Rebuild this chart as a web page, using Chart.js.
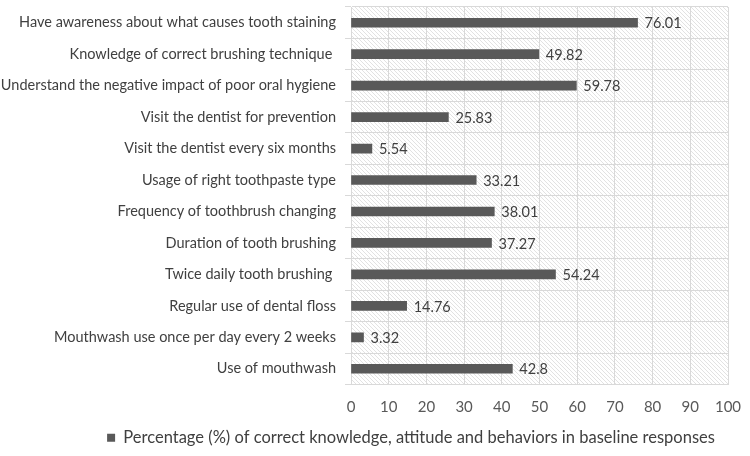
<!DOCTYPE html>
<html>
<head>
<meta charset="utf-8">
<script src="https://cdn.jsdelivr.net/npm/chart.js@4/dist/chart.umd.min.js"></script>
<style>
html,body{margin:0;padding:0;background:#fff;}
#wrap{width:750px;height:456px;}
</style>
</head>
<body>
<div id="wrap"><canvas id="c" width="750" height="456"></canvas></div>
<script>
const categories = [
  "Have awareness about what causes tooth staining",
  "Knowledge of correct brushing technique ",
  "Understand the negative impact of poor oral hygiene",
  "Visit the dentist for prevention",
  "Visit the dentist every six months",
  "Usage of right toothpaste type",
  "Frequency of toothbrush changing",
  "Duration of tooth brushing",
  "Twice daily tooth brushing ",
  "Regular use of dental floss",
  "Mouthwash use once per day every 2 weeks",
  "Use of mouthwash"
];
const percentages = [76.01, 49.82, 59.78, 25.83, 5.54, 33.21, 38.01, 37.27, 54.24, 14.76, 3.32, 42.8];
const seriesName = "Percentage (%) of correct knowledge, attitude and behaviors in baseline responses";
const xTicks = [0, 10, 20, 30, 40, 50, 60, 70, 80, 90, 100];

const FONT = "Lato, 'Open Sans', sans-serif";

function makePattern(ctx) {
  const p = document.createElement('canvas');
  p.width = 4; p.height = 4;
  const g = p.getContext('2d');
  g.fillStyle = '#ffffff';
  g.fillRect(0, 0, 4, 4);
  g.strokeStyle = '#e2e2e2';
  g.lineWidth = 1;
  g.beginPath();
  g.moveTo(0, 0); g.lineTo(4, 4);
  g.moveTo(-2, 2); g.lineTo(2, 6);
  g.moveTo(2, -2); g.lineTo(6, 2);
  g.stroke();
  return ctx.createPattern(p, 'repeat');
}

const bgPlugin = {
  id: 'bgPattern',
  beforeDraw(chart) {
    const {ctx, chartArea: a} = chart;
    ctx.save();
    ctx.fillStyle = makePattern(ctx);
    ctx.fillRect(a.left, a.top, a.right - a.left, a.bottom - a.top);
    ctx.restore();
  }
};

const legendShift = {
  id: 'legendShift',
  afterLayout(chart) {
    const lg = chart.legend;
    if (lg) { lg.left = 94; lg.width = lg.right - lg.left; }
  }
};

const labelPlugin = {
  id: 'valueLabels',
  afterDatasetsDraw(chart) {
    const {ctx} = chart;
    const meta = chart.getDatasetMeta(0);
    ctx.save();
    ctx.font = "14.5px " + FONT;
    ctx.fillStyle = '#404040';
    ctx.textAlign = 'left';
    ctx.textBaseline = 'middle';
    meta.data.forEach((bar, i) => {
      ctx.fillText(String(percentages[i]), bar.x + 7, bar.y + 1);
    });
    ctx.restore();
  }
};

new Chart(document.getElementById('c'), {
  type: 'bar',
  data: {
    labels: categories,
    datasets: [{
      label: seriesName,
      data: percentages,
      backgroundColor: '#595959',
      borderWidth: 0,
      barThickness: 9
    }]
  },
  options: {
    indexAxis: 'y',
    responsive: false,
    animation: false,
    layout: { padding: { top: 7, right: 22, left: 0, bottom: 0 } },
    plugins: {
      legend: {
        position: 'bottom',
        labels: {
          boxWidth: 8, boxHeight: 8, padding: 0,
          color: '#404040',
          font: { family: FONT, size: 16.5 }
        }
      },
      tooltip: { enabled: false }
    },
    scales: {
      x: {
        min: 0, max: 100,
        afterBuildTicks(scale) { scale.ticks = xTicks.map(v => ({value: v})); },
        afterFit(scale) { scale.paddingLeft = 0; scale.paddingRight = 0; },
        grid: { color: '#d9d9d9', drawTicks: false },
        border: { color: '#d9d9d9' },
        ticks: { color: '#595959', font: { family: FONT, size: 15, lineHeight: 1.0 }, padding: 15 }
      },
      y: {
        grid: { color: '#d9d9d9', offset: true, tickLength: 6 },
        border: { color: '#d9d9d9' },
        ticks: { color: '#404040', font: { family: FONT, size: 14.5 }, padding: 9, autoSkip: false },
        afterFit(scale) { scale.width = 351; scale.paddingTop = 0; scale.paddingBottom = 0; }
      }
    }
  },
  plugins: [bgPlugin, labelPlugin, legendShift]
});
</script>
</body>
</html>
